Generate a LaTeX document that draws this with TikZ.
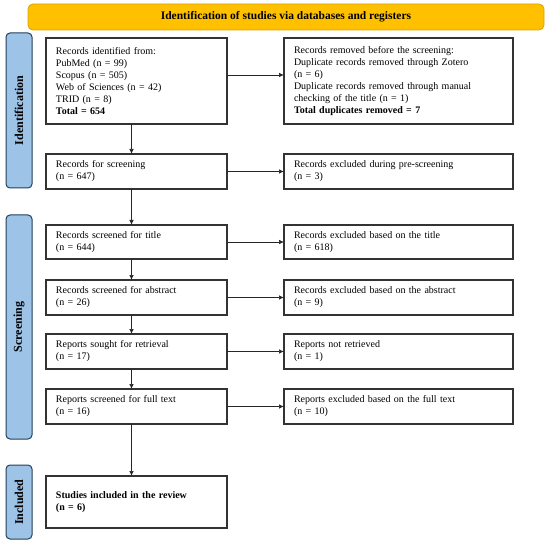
\documentclass[tikz,border=0pt]{standalone}
\usepackage{fontspec}
\setmainfont{Liberation Serif}
\usetikzlibrary{arrows.meta}
\definecolor{phasefill}{HTML}{9DC3E6}
\definecolor{phaseline}{HTML}{233F5C}
\definecolor{headfill}{HTML}{FFC000}
\definecolor{headline}{HTML}{D9A300}

\begin{document}
\begin{tikzpicture}[x=1pt,y=-1pt,
    box/.style={draw=black!80,line width=1.1pt,anchor=north west,inner sep=0pt,outer sep=0pt,
      align=left,text width=#1-20pt,minimum width=#1,font=\fontsize{10}{12}\selectfont},
    phase/.style={draw=phaseline,line width=1pt,fill=phasefill,rounded corners=4pt,
      anchor=north west,minimum width=26pt,outer sep=0pt},
    tag/.style={rotate=90,font=\fontsize{12}{12}\selectfont\bfseries},
    flow/.style={-{Latex[length=5pt,width=4.5pt]},line width=.7pt,black!85}]
  \useasboundingbox (0,0) rectangle (550,543);

  \node[draw=headline,fill=headfill,line width=.8pt,rounded corners=5pt,
    minimum width=516pt,minimum height=26pt,font=\fontsize{11.5}{12}\selectfont\bfseries]
    (head) at (286,17) {Identification of studies via databases and registers};

  \node[phase,minimum height=155pt] (pid) at (6,33) {};
  \node[phase,minimum height=224pt] (pscr) at (6,215) {};
  \node[phase,minimum height=74pt] (pinc) at (6,465) {};
  \node[tag] at (pid.center) {Identification};
  \node[tag] at (pscr.center) {Screening};
  \node[tag] at (pinc.center) {Included};

  % left column
  \node[box=181pt,minimum height=86pt] (found) at (46,38) {Records identified from:\\
    PubMed (n = 99)\\Scopus (n = 505)\\Web of Sciences (n = 42)\\TRID (n = 8)\\
    \textbf{Total = 654}};
  \node[box=181pt,minimum height=35pt] (toscreen) at (46,154) {Records for screening\\(n = 647)};
  \node[box=181pt,minimum height=34pt] (title) at (46,225) {Records screened for title\\(n = 644)};
  \node[box=181pt,minimum height=35pt] (abstr) at (46,280) {Records screened for abstract\\(n = 26)};
  \node[box=181pt,minimum height=35pt] (sought) at (46,334) {Reports sought for retrieval\\(n = 17)};
  \node[box=181pt,minimum height=35pt] (full) at (46,389) {Reports screened for full text\\(n = 16)};
  \node[box=181pt,minimum height=52pt] (incl) at (46,476)
    {\textbf{Studies included in the review}\\\textbf{(n = 6)}\\[12pt]};

  % right column
  \node[box=229pt,minimum height=86pt] (dup) at (284,38) {Records removed before the screening:\\
    Duplicate records removed through Zotero\\(n = 6)\\
    Duplicate records removed through manual\\checking of the title (n = 1)\\
    \textbf{Total duplicates removed = 7}};
  \node[box=229pt,minimum height=35pt] (xpre) at (284,154) {Records excluded during pre-screening\\(n = 3)};
  \node[box=229pt,minimum height=34pt] (xtitle) at (284,225) {Records excluded based on the title\\(n = 618)};
  \node[box=229pt,minimum height=35pt] (xabstr) at (284,280) {Records excluded based on the abstract\\(n = 9)};
  \node[box=229pt,minimum height=35pt] (xret) at (284,334) {Reports not retrieved\\(n = 1)};
  \node[box=229pt,minimum height=35pt] (xfull) at (284,389) {Reports excluded based on the full text\\(n = 10)};

  \foreach \a/\b in {found/toscreen,toscreen/title,title/abstr,abstr/sought,sought/full,full/incl}
    \draw[flow] ([xshift=-5pt]\a.south) -- ([xshift=-5pt]\b.north);
  \draw[flow] ([yshift=6pt]found.east) -- ([yshift=6pt]dup.west);
  \foreach \a/\b in {toscreen/xpre,title/xtitle,abstr/xabstr,sought/xret,full/xfull}
    \draw[flow] (\a) -- (\b);
\end{tikzpicture}
\end{document}
